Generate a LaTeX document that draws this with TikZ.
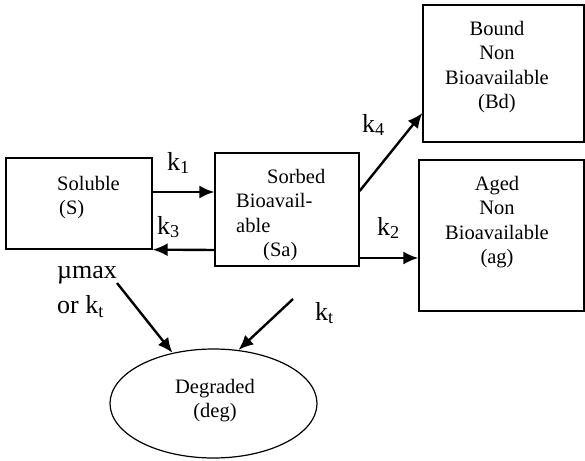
\documentclass[tikz,border=0pt]{standalone}
\usepackage{fontspec}
\setmainfont{Liberation Serif}
\usetikzlibrary{arrows.meta,shapes.geometric}

\begin{document}
\begin{tikzpicture}[x=1pt,y=-1pt,
	box/.style={rectangle,draw,line width=1.2pt,inner sep=0pt},
	flow/.style={line width=2.4pt,-{Latex[length=15pt,width=13pt]}},
	txt/.style={inner sep=0pt,font=\fontsize{20.5}{24.5}\selectfont},
	lbl/.style={inner sep=0pt,font=\fontsize{26}{35}\selectfont}]
	\useasboundingbox (0,0) rectangle (585,460);

	% compartments
	\node[box,minimum width=146pt,minimum height=91pt] (sol) at (79,203.5) {};
	\node[box,minimum width=144pt,minimum height=113pt] (sa) at (287,209.5) {};
	\node[box,minimum width=161pt,minimum height=137pt] (bd) at (503.5,73.5) {};
	\node[box,minimum width=165pt,minimum height=151pt] (ag) at (501.5,235.5) {};
	\node[ellipse,draw,line width=1.2pt,inner sep=0pt,minimum width=207pt,minimum height=109pt] (deg) at (213.5,403.5) {};

	\node[txt,align=left,anchor=north west] (sol_txt) at (57,176) {Soluble\\\hspace*{2pt}(S)};
	\node[txt,align=left,anchor=north west] (sa_txt) at (236,169) {\hspace*{31pt}Sorbed\\Bioavail-\\able\\\hspace*{27pt}(Sa)};
	\node[txt,align=center,anchor=north] (bd_txt) at (497,21) {Bound\\Non\\Bioavailable\\(Bd)};
	\node[txt,align=center,anchor=north] (ag_txt) at (497,176) {Aged\\Non\\Bioavailable\\(ag)};
	\node[txt,align=center,anchor=north] (deg_txt) at (215,379) {Degraded\\(deg)};

	% rate constants
	\node[lbl,anchor=base west] (k1) at (167,170) {k\textsubscript{1}};
	\node[lbl,anchor=base west] (k3) at (157,234) {k\textsubscript{3}};
	\node[lbl,anchor=base west] (k4) at (362,132) {k\textsubscript{4}};
	\node[lbl,anchor=base west] (k2) at (377,235) {k\textsubscript{2}};
	\node[lbl,anchor=base west] (kt) at (315,320) {k\textsubscript{t}};
	\node[lbl,align=left,anchor=north west] (mu) at (57,266) {µmax\\or k\textsubscript{t}};

	% transfers
	\path ([yshift=11.5pt]sol.east) coordinate (k1_l);
	\draw[flow] (k1_l) -- (k1_l -| sa.west);
	\draw[flow] ([yshift=-40.5pt]sa.west) -- (sol.south east);
	\draw[flow] ([yshift=18.5pt]sa.east) -- ([yshift=-39.5pt]bd.west);
	\path ([yshift=-48.5pt]sa.east) coordinate (k2_l);
	\draw[flow] (k2_l) -- (k2_l -| ag.west);
	\path (117,283) coordinate (mu_end);
	\draw[flow] (mu_end) -- (deg.129);
	\path (293,299) coordinate (kt_end);
	\draw[flow] (kt_end) -- (deg.65);
\end{tikzpicture}
\end{document}
